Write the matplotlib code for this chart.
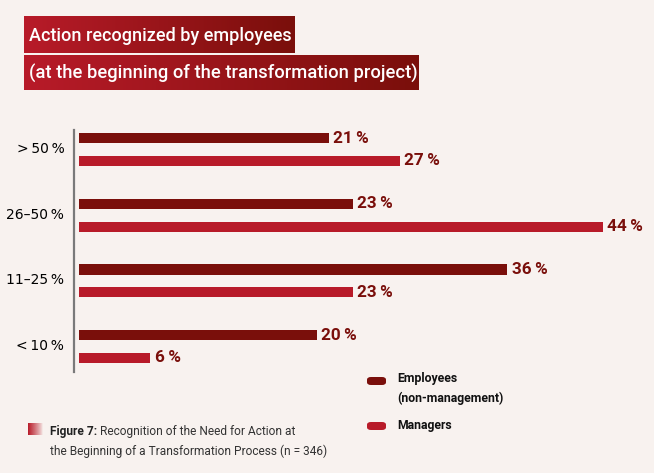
import numpy as np
import matplotlib
matplotlib.use("Agg")
import matplotlib.pyplot as plt
from matplotlib.patches import FancyBboxPatch
from matplotlib.colors import LinearSegmentedColormap

# ---- data ----
categories = [">\u200950\u2009%", "26–50\u2009%", "11–25\u2009%", "<\u200910\u2009%"]
employees = [21, 23, 36, 20]
managers = [27, 44, 23, 6]
series_names = ["Employees\n(non-management)", "Managers"]
title_lines = ["Action recognized by employees",
               "(at the beginning of the transformation project)"]
caption_bold = "Figure 7:"
caption_rest = " Recognition of the Need for Action at"
caption_line2 = "the Beginning of a Transformation Process (n = 346)"

BG = "#f8f2ef"
DARK = "#7a0f0b"
RED = "#b81b29"
NARROW = ["Roboto", "DejaVu Sans"]

W, H = 654, 473
fig = plt.figure(figsize=(W / 100, H / 100), dpi=100, facecolor=BG)


def box(x0, y0, x1, y1):
    """pixel box (top-left origin) -> figure rect"""
    return [x0 / W, 1 - y1 / H, (x1 - x0) / W, (y1 - y0) / H]


# ---- main axes ----
px_per_unit = 11.9
ax = fig.add_axes(box(74, 130, 74 + (48 + 0.42) * px_per_unit, 372))
ax.set_facecolor(BG)
y = np.arange(len(categories))
off = 0.174
bh = 0.155
ax.barh(y - off, employees, height=bh, color=DARK, left=0)
ax.barh(y + off, managers, height=bh, color=RED, left=0)
for yi, v in zip(y - off, employees):
    ax.text(v + 0.35, yi, f"{v}\u2009%", va="center", ha="left",
            fontsize=12.3, fontweight="bold", color=DARK, family=NARROW)
for yi, v in zip(y + off, managers):
    ax.text(v + 0.35, yi, f"{v}\u2009%", va="center", ha="left",
            fontsize=12.3, fontweight="bold", color=DARK, family=NARROW)
ax.set_xlim(-0.42, 48)
ax.set_ylim(3 + 0.388, -0.297)
ax.set_yticks(y - 0.03)
ax.set_yticklabels(categories, fontsize=9.5, color="#333333",
                   family=["Open Sans", "DejaVu Sans"])
ax.tick_params(axis="y", length=0, pad=7)
ax.set_xticks([])
for s in ["top", "right", "bottom"]:
    ax.spines[s].set_visible(False)
ax.spines["left"].set_color("#7a7a7a")
ax.spines["left"].set_linewidth(1.6)
ax.spines["left"].set_position(("data", -0.42))

# ---- title boxes with gradient ----
cmap = LinearSegmentedColormap.from_list("g", ["#b81b29", "#7a0f0b"])
grad = np.linspace(0, 1, 256).reshape(1, -1)
for (x0, y0, x1, y1), txt, fs in zip([(24, 16, 295, 53), (24, 55, 419, 90)],
                                     title_lines, [12.95, 13.2]):
    tax = fig.add_axes(box(x0, y0, x1, y1))
    tax.imshow(grad, aspect="auto", cmap=cmap, extent=[0, 1, 0, 1])
    tax.set_axis_off()
    tax.text(5 / (x1 - x0), 0.46, txt, transform=tax.transAxes, color="white",
             fontsize=fs, fontweight="medium", va="center", ha="left",
             family=NARROW)

# ---- legend ----
for (ly, name, col) in [(381, series_names[0], DARK), (426, series_names[1], RED)]:
    fig.patches.append(FancyBboxPatch((367 / W, 1 - (ly + 4) / H), 19 / W, 8 / H,
                                      boxstyle="round,pad=0,rounding_size=0.006",
                                      transform=fig.transFigure, facecolor=col,
                                      edgecolor="none"))
fig.text(397 / W, 1 - 372 / H, series_names[0], fontsize=8.8, fontweight="bold",
         va="top", ha="left", family=NARROW, color="#111111", linespacing=1.62)
fig.text(397 / W, 1 - 425 / H, series_names[1], fontsize=8.8, fontweight="bold",
         va="center", ha="left", family=NARROW, color="#111111")

# ---- caption ----
cax = fig.add_axes(box(28, 423, 43, 435))
rgba = np.zeros((1, 64, 4))
rgba[..., 0] = 0xb8 / 255
rgba[..., 1] = 0x1b / 255
rgba[..., 2] = 0x29 / 255
rgba[..., 3] = np.linspace(1, 0, 64) ** 0.8
cax.imshow(rgba, aspect="auto", extent=[0, 1, 0, 1])
cax.set_axis_off()
t1 = fig.text(50 / W, 1 - 431 / H, caption_bold, fontsize=8.6, fontweight="bold",
              va="center", ha="left", family=NARROW, color="#222222")
fig.canvas.draw()
bb = t1.get_window_extent()
fig.text(bb.x1 / W, 1 - 431 / H, caption_rest, fontsize=8.6,
         va="center", ha="left", family=NARROW, color="#333333")
fig.text(50 / W, 1 - 451 / H, caption_line2, fontsize=8.6,
         va="center", ha="left", family=NARROW, color="#333333")

fig.savefig("out.png", dpi=100, facecolor=BG)
